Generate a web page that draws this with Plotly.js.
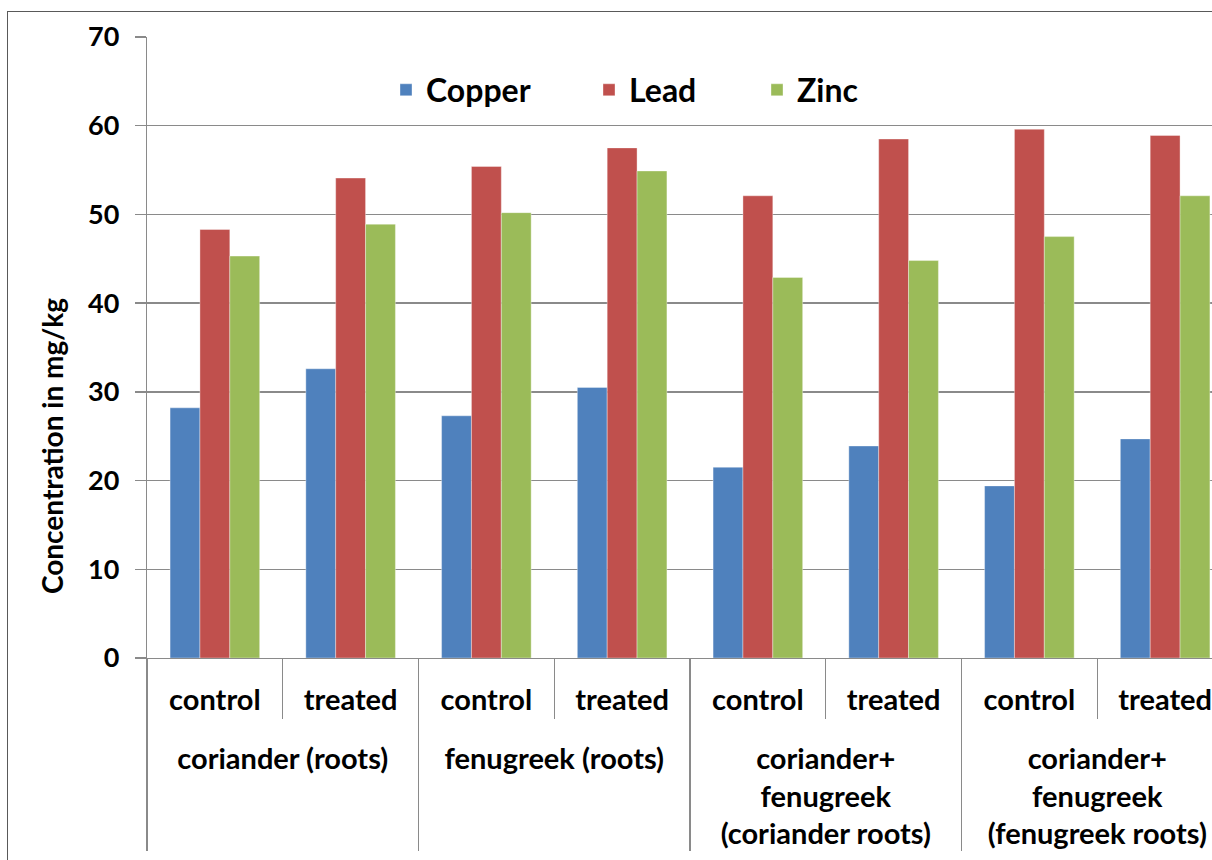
<!DOCTYPE html>
<html>
<head>
<meta charset="utf-8">
<script src="https://cdn.plot.ly/plotly-3.0.1.min.js"></script>
<style>
  html, body { margin: 0; padding: 0; width: 1212px; height: 860px; overflow: hidden; background: #fff; }
  #chart { position: absolute; left: 0; top: 0; width: 1250px; height: 860px; }
  #frame { position: absolute; left: 7px; top: 11px; width: 1400px; height: 1000px;
           border-left: 1.5px solid #595959; border-top: 1.5px solid #595959; pointer-events: none; }
</style>
</head>
<body>
<div id="chart"></div>
<div id="frame"></div>
<script>
// Plant / root groups and the two treatments within each
// (the leading line break drops each group label one line below the treatment labels)
const groups = [
  '<br>coriander (roots)',
  '<br>fenugreek (roots)',
  '<br>coriander+<br>fenugreek<br>(coriander roots)',
  '<br>coriander+<br>fenugreek<br>(fenugreek roots)'
];
const treatments = ['control', 'treated'];

// Metal concentrations in mg/kg, one value per group × treatment
const copper = [28.2, 32.6, 27.3, 30.5, 21.5, 23.9, 19.4, 24.7];
const lead   = [48.3, 54.1, 55.4, 57.5, 52.1, 58.5, 59.6, 58.9];
const zinc   = [45.3, 48.9, 50.2, 54.9, 42.9, 44.8, 47.5, 52.1];

const yTicks = [0, 10, 20, 30, 40, 50, 60, 70];

// two-level category coordinates
const outer = [], inner = [];
groups.forEach(g => treatments.forEach(t => { outer.push(g); inner.push(t); }));
const xcat = [outer, inner];

const FONT = 'Lato, "Open Sans", sans-serif';
const GRID = '#8a8a8a';

const series = [
  { name: 'Copper', y: copper, color: '#4F81BD', legend: 'legend' },
  { name: 'Lead',   y: lead,   color: '#C0504D', legend: 'legend2' },
  { name: 'Zinc',   y: zinc,   color: '#9BBB59', legend: 'legend3' }
];

const traces = series.map(s => ({
  type: 'bar',
  name: s.name,
  x: xcat,
  y: s.y,
  legend: s.legend,
  showlegend: true,
  marker: { color: s.color, line: { color: 'rgba(255,255,255,0.45)', width: 0.8 } },
  hoverinfo: 'x+y+name'
}));

const legendBase = {
  orientation: 'h',
  bgcolor: 'rgba(0,0,0,0)',
  font: { family: FONT, size: 32, color: '#000', weight: 'bold' },
  yanchor: 'middle', y: (658 - 90) / 621, xanchor: 'left', visible: true
};

const layout = {
  width: 1250, height: 860,
  margin: { l: 147, r: 17, t: 37, b: 202 },
  paper_bgcolor: 'rgba(0,0,0,0)',
  plot_bgcolor: '#fff',
  showlegend: true,
  barmode: 'group',
  bargap: 0.34,
  bargroupgap: 0,
  font: { family: FONT, color: '#000' },
  legend:  Object.assign({}, legendBase, { x: (386 - 147) / 1086 }),
  legend2: Object.assign({}, legendBase, { x: (589 - 147) / 1086 }),
  legend3: Object.assign({}, legendBase, { x: (757 - 147) / 1086 }),
  xaxis: {
    type: 'multicategory',
    tickson: 'boundaries',
    ticks: 'outside', ticklen: 60, tickcolor: GRID, tickwidth: 1.3,
    ticklabelstandoff: 16,
    showline: true, linecolor: GRID, linewidth: 1.3,
    showgrid: false,
    showdividers: true, dividercolor: GRID, dividerwidth: 1.3,
    tickfont: { family: FONT, size: 29, color: '#000', weight: 'bold' }
  },
  yaxis: {
    range: [0, 70],
    tickvals: yTicks,
    ticktext: yTicks.map(String),
    ticks: 'outside', ticklen: 11, tickcolor: GRID, tickwidth: 1.3,
    ticklabelstandoff: 10,
    showline: true, linecolor: GRID, linewidth: 1.3,
    showgrid: true, gridcolor: GRID, gridwidth: 1.3,
    zeroline: false,
    tickfont: { family: FONT, size: 27, color: '#000', weight: 'bold' }
  },
  annotations: [{
    text: 'Concentration in mg/kg',
    textangle: -90,
    xref: 'paper', yref: 'paper',
    x: (52 - 147) / 1086, y: (658 - 446) / 621,
    xanchor: 'center', yanchor: 'middle',
    showarrow: false,
    font: { family: FONT, size: 28, color: '#000', weight: 'bold' }
  }]
};

Plotly.newPlot('chart', traces, layout, { displayModeBar: false, staticPlot: true });
</script>
</body>
</html>
